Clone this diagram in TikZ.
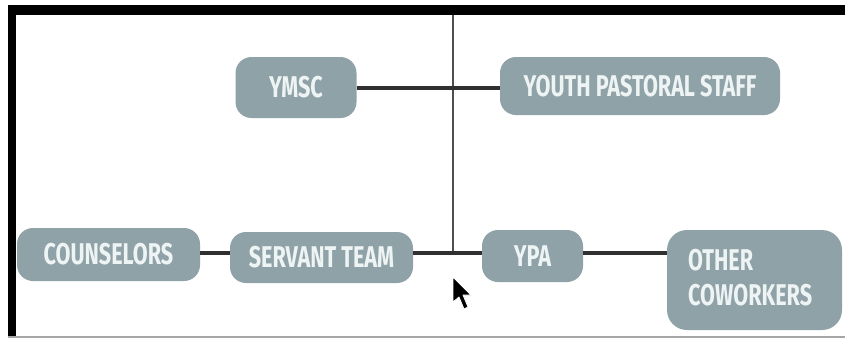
\documentclass[tikz,border=0pt]{standalone}
\usepackage{fontspec}
\setmainfont{Fira Sans}
\usepackage{graphicx}
\definecolor{boxfill}{HTML}{8FA2A8}
\definecolor{boxtext}{HTML}{EEF3F4}
\definecolor{linec}{HTML}{303030}
\tikzset{
  orgbox/.style={fill=boxfill, rounded corners=16pt, inner sep=0pt, text=boxtext,
    font=\bfseries\fontsize{30}{33}\selectfont},
  conn/.style={draw=linec, line width=3.2pt},
  vconn/.style={draw=linec!85, line width=2pt},
}
\newcommand{\cond}[1]{\scalebox{0.72}[1]{#1}}
\begin{document}
\begin{tikzpicture}[x=1pt,y=-1pt]
\useasboundingbox (0,0) rectangle (845,341);
\fill[white] (0,0) rectangle (845,341);
% frame
\fill[black] (8,5) rectangle (845,15);
\fill[black] (8,5) rectangle (16,337);
\draw[gray!70, line width=1.2pt] (8,337) -- (845,337);
% nodes
\node[orgbox, minimum width=121pt, minimum height=61pt] (ymsc) at (296,87.5) {\cond{YMSC}};
\node[orgbox, minimum width=280pt, minimum height=58pt] (yps) at (640,86) {\cond{YOUTH PASTORAL STAFF}};
\node[orgbox, minimum width=183pt, minimum height=53pt] (couns) at (108.5,254.5) {\cond{COUNSELORS}};
\node[orgbox, minimum width=183pt, minimum height=51pt] (serv) at (321.5,257.5) {\cond{SERVANT TEAM}};
\node[orgbox, minimum width=101pt, minimum height=52pt] (ypa) at (532.5,256) {\cond{YPA}};
\node[orgbox, minimum width=175pt, minimum height=100pt, rounded corners=20pt] (other) at (754.5,280) {};
\node[anchor=west, text=boxtext, font=\bfseries\fontsize{30}{37}\selectfont, align=left, inner sep=0pt] (othertext) at (688,278)
  {\cond{OTHER}\\[-2pt]\cond{COWORKERS}};
% connectors
\coordinate (vtop) at (453,15);
\coordinate (vbot) at (453,253);
\draw[vconn] (vtop) -- (vbot);
\draw[conn] (ymsc.east |- 0,88) -- (yps.west |- 0,88);
\draw[conn] (couns.east |- 0,253) -- (serv.west |- 0,253);
\draw[conn] (serv.east |- 0,253) -- (ypa.west |- 0,253);
\draw[conn] (ypa.east |- 0,253) -- (other.west |- 0,253);
% mouse cursor
\filldraw[fill=black, draw=white, line width=0.8pt, line join=round]
  (453,277) -- (453,302) -- (459,297) -- (464,309) -- (468,307) -- (463,295) -- (471,295) -- cycle;
\end{tikzpicture}
\end{document}
